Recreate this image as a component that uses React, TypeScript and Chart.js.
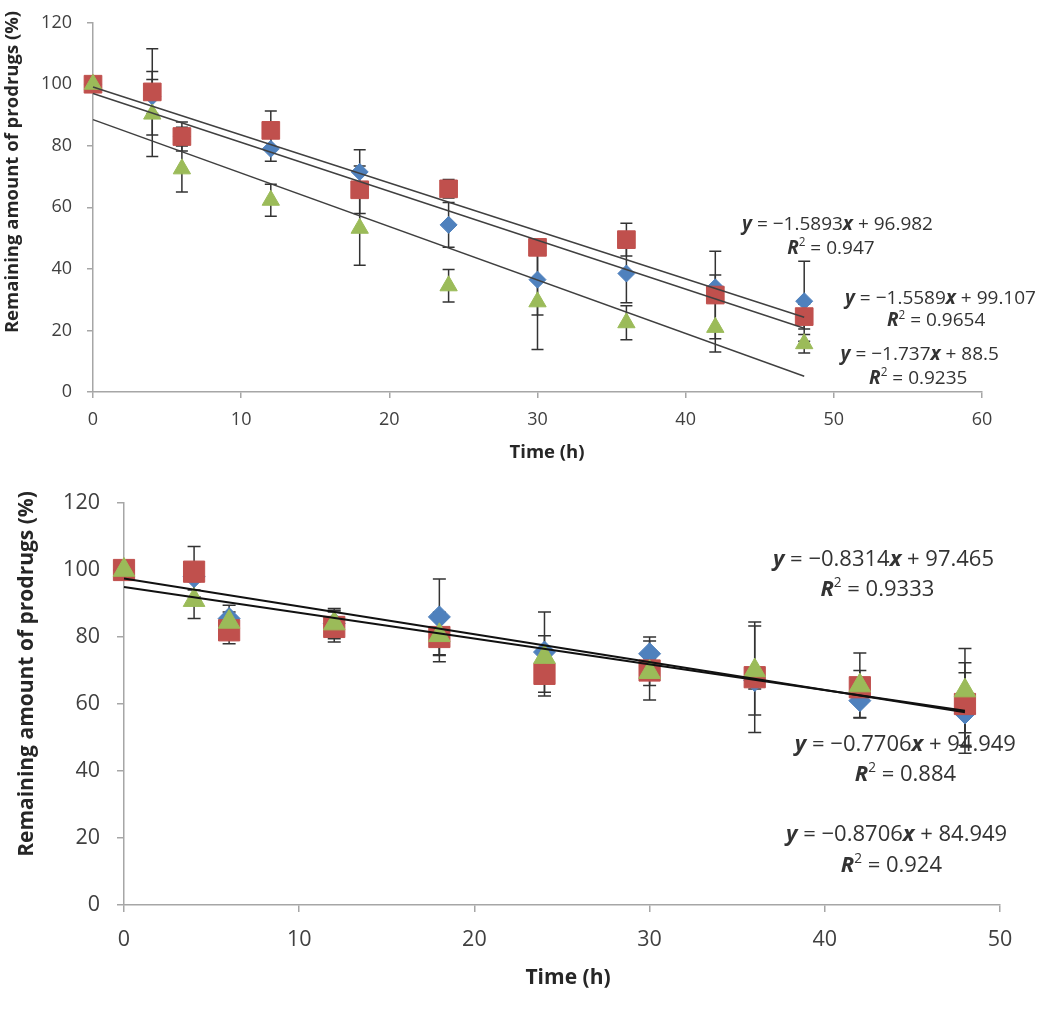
import React, { useEffect, useRef } from "react";
import { Chart, registerables } from "chart.js";

Chart.register(...registerables);

// ---------------- DATA ----------------
const TIME = [0, 4, 6, 12, 18, 24, 30, 36, 42, 48];

// Upper panel
const TOP_BLUE = [100, 96, 83, 79, 71.5, 54.3, 36.5, 38.5, 34, 29.5];
const TOP_BLUE_ERR = [0, 5.5, 3, 4, 7.2, 7.3, 11.5, 9.5, 4, 13];
const TOP_RED = [100, 97.5, 83, 85, 65.7, 66, 47, 49.5, 31.5, 24.5];
const TOP_RED_ERR = [0, 14, 4.7, 6.3, 7.7, 3, 2, 5.3, 14.2, 4];
const TOP_GREEN = [100, 90.3, 72.5, 62.3, 53.2, 34.5, 29.3, 22.5, 21, 15.7];
const TOP_GREEN_ERR = [0, 13.8, 7.5, 5.2, 12, 5.3, 15.5, 5.5, 8, 3];

const TOP_SLOPES = [-1.5893, -1.5589, -1.737];
const TOP_INTERCEPTS = [96.982, 99.107, 88.5];
const TOP_R2 = [0.947, 0.9654, 0.9235];
const TOP_LINE_VISIBLE = [true, true, true];

// Lower panel
const BOT_BLUE = [100, 98, 85.5, 84, 86, 75.5, 75, 67, 61, 57.3];
const BOT_BLUE_ERR = [0, 4, 4, 4.5, 11.3, 12, 5, 2.5, 5, 12];
const BOT_RED = [100, 99.5, 82, 83, 80, 69, 70, 68, 65, 60];
const BOT_RED_ERR = [0, 7.5, 4, 4.5, 7.4, 6.6, 8.8, 16.5, 5, 12.3];
const BOT_GREEN = [100, 91, 84.5, 84, 80.5, 74, 69.5, 70, 65.5, 64];
const BOT_GREEN_ERR = [0, 5.5, 3, 4, 6, 6.4, 4, 13.3, 9.7, 12.6];

const BOT_SLOPES = [-0.8314, -0.7706, -0.8706];
const BOT_INTERCEPTS = [97.465, 94.949, 84.949];
const BOT_R2 = [0.9333, 0.884, 0.924];
const BOT_LINE_VISIBLE = [true, true, false];

const TREND_X = [0, 48];
const Y_TITLE = "Remaining amount of prodrugs (%)";
const X_TITLE = "Time (h)";

// ---------------- STYLE / LAYOUT ----------------
const FONT = '"Open Sans", "Noto Sans", sans-serif';
const COLORS = ["#4f81bd", "#c0504d", "#9bbb59"];
const STYLES = ["rectRot", "rect", "triangle"];
const AXIS_COLOR = "#a6a6a6";
const TICK_COLOR = "#404040";
const TEXT_COLOR = "#333333";

type Seg = { t: string; s?: "bi" | "sup" };

interface PanelSpec {
  top: number;
  height: number;
  xMax: number;
  yAxisWidth: number;
  padTop: number;
  padRight: number;
  plotBottom: number;
  tickFont: number;
  tickLineHeight: number;
  tickLen: number;
  yTickPad: number;
  xTickPad: number;
  titleFont: number;
  yTitlePos: [number, number];
  xTitlePos: [number, number];
  annFont: number;
  eqPos: number[][];
  r2Pos: number[][];
  radii: number[];
  capWidth: number;
  lineColor: string;
  lineWidth: number;
  values: number[][];
  errors: number[][];
  slopes: number[];
  intercepts: number[];
  r2: number[];
  lineVisible: boolean[];
}

const TOP_SPEC: PanelSpec = {
  top: 0,
  height: 470,
  xMax: 60,
  yAxisWidth: 93,
  padTop: 8,
  padRight: 68,
  plotBottom: 392,
  tickFont: 18,
  tickLineHeight: 0.85,
  tickLen: 6,
  yTickPad: 15,
  xTickPad: 11,
  titleFont: 18.5,
  yTitlePos: [13, 172],
  xTitlePos: [547, 453],
  annFont: 19,
  eqPos: [[50.25, 54.4], [57.2, 30.3], [55.8, 12.2]],
  r2Pos: [[49.8, 46.6], [56.9, 23.1], [55.7, 4.4]],
  radii: [8.5, 12.5, 10],
  capWidth: 12,
  lineColor: "#404040",
  lineWidth: 1.5,
  values: [TOP_BLUE, TOP_RED, TOP_GREEN],
  errors: [TOP_BLUE_ERR, TOP_RED_ERR, TOP_GREEN_ERR],
  slopes: TOP_SLOPES,
  intercepts: TOP_INTERCEPTS,
  r2: TOP_R2,
  lineVisible: TOP_LINE_VISIBLE,
};

const BOT_SPEC: PanelSpec = {
  top: 470,
  height: 543,
  xMax: 50,
  yAxisWidth: 124,
  padTop: 33,
  padRight: 50,
  plotBottom: 435,
  tickFont: 21.5,
  tickLineHeight: 1.2,
  tickLen: 7,
  yTickPad: 17,
  xTickPad: 15,
  titleFont: 21,
  yTitlePos: [27.5, 204],
  xTitlePos: [568, 508],
  annFont: 22,
  eqPos: [[43.35, 103.0], [44.6, 47.8], [44.1, 20.9]],
  r2Pos: [[43.0, 94.0], [44.6, 38.8], [43.8, 11.6]],
  radii: [11, 15, 12.5],
  capWidth: 13,
  lineColor: "#111111",
  lineWidth: 2,
  values: [BOT_BLUE, BOT_RED, BOT_GREEN],
  errors: [BOT_BLUE_ERR, BOT_RED_ERR, BOT_GREEN_ERR],
  slopes: BOT_SLOPES,
  intercepts: BOT_INTERCEPTS,
  r2: BOT_R2,
  lineVisible: BOT_LINE_VISIBLE,
};

function fmt(n: number): string {
  return String(n);
}

function eqSegs(a: number, b: number): Seg[] {
  return [
    { t: "y", s: "bi" },
    { t: " = " + (a < 0 ? "\u2212" : "") + fmt(Math.abs(a)) },
    { t: "x", s: "bi" },
    { t: " + " + fmt(b) },
  ];
}

function r2Segs(r: number): Seg[] {
  return [{ t: "R", s: "bi" }, { t: "2", s: "sup" }, { t: " = " + fmt(r) }];
}

function drawRich(ctx: CanvasRenderingContext2D, segs: Seg[], cx: number, cy: number, size: number) {
  const fontFor = (s?: string) =>
    s === "bi" ? `italic bold ${size}px ${FONT}` : s === "sup" ? `${size * 0.62}px ${FONT}` : `${size}px ${FONT}`;
  ctx.save();
  ctx.fillStyle = TEXT_COLOR;
  ctx.textBaseline = "middle";
  ctx.textAlign = "left";
  const widths = segs.map((sg) => {
    ctx.font = fontFor(sg.s);
    return ctx.measureText(sg.t).width;
  });
  const total = widths.reduce((a, b) => a + b, 0);
  let x = cx - total / 2;
  segs.forEach((sg, i) => {
    ctx.font = fontFor(sg.s);
    ctx.fillText(sg.t, x, sg.s === "sup" ? cy - size * 0.3 : cy);
    x += widths[i];
  });
  ctx.restore();
}

function makePlugins(spec: PanelSpec) {
  const errorBars = {
    id: "errorBars",
    beforeDatasetsDraw(chart: any) {
      const ctx: CanvasRenderingContext2D = chart.ctx;
      const ys = chart.scales.y;
      ctx.save();
      ctx.strokeStyle = "#333333";
      ctx.lineWidth = 1.5;
      spec.errors.forEach((errs, si) => {
        const meta = chart.getDatasetMeta(si);
        errs.forEach((e, j) => {
          if (!e) return;
          const pt = meta.data[j];
          if (!pt) return;
          const x = pt.x;
          const v = spec.values[si][j];
          const y1 = ys.getPixelForValue(v + e);
          const y2 = ys.getPixelForValue(v - e);
          const hw = spec.capWidth / 2;
          ctx.beginPath();
          ctx.moveTo(x, y1);
          ctx.lineTo(x, y2);
          ctx.moveTo(x - hw, y1);
          ctx.lineTo(x + hw, y1);
          ctx.moveTo(x - hw, y2);
          ctx.lineTo(x + hw, y2);
          ctx.stroke();
        });
      });
      ctx.restore();
    },
  };
  const overlay = {
    id: "overlayText",
    afterDraw(chart: any) {
      const ctx: CanvasRenderingContext2D = chart.ctx;
      const xs = chart.scales.x;
      const ys = chart.scales.y;
      spec.slopes.forEach((a, i) => {
        const p = spec.eqPos[i];
        drawRich(ctx, eqSegs(a, spec.intercepts[i]), xs.getPixelForValue(p[0]), ys.getPixelForValue(p[1]), spec.annFont);
        const q = spec.r2Pos[i];
        drawRich(ctx, r2Segs(spec.r2[i]), xs.getPixelForValue(q[0]), ys.getPixelForValue(q[1]), spec.annFont);
      });
      ctx.save();
      ctx.fillStyle = "#262626";
      ctx.font = `bold ${spec.titleFont}px ${FONT}`;
      ctx.textAlign = "center";
      ctx.textBaseline = "middle";
      ctx.fillText(X_TITLE, spec.xTitlePos[0], spec.xTitlePos[1]);
      ctx.translate(spec.yTitlePos[0], spec.yTitlePos[1]);
      ctx.rotate(-Math.PI / 2);
      ctx.fillText(Y_TITLE, 0, 0);
      ctx.restore();
    },
  };
  return [errorBars, overlay];
}

function Panel({ spec }: { spec: PanelSpec }) {
  const ref = useRef<HTMLCanvasElement | null>(null);
  useEffect(() => {
    if (!ref.current) return;
    const scatterSets = spec.values.map((vals, i) => ({
      type: "scatter" as const,
      label: "series" + (i + 1),
      data: TIME.map((t, j) => ({ x: t, y: vals[j] })),
      pointStyle: STYLES[i],
      pointRadius: spec.radii[i],
      pointBackgroundColor: COLORS[i],
      pointBorderColor: COLORS[i],
      pointBorderWidth: 1,
      showLine: false,
      clip: false,
      order: 3 - i,
    }));
    const lineSets = spec.slopes.map((a, i) => ({
      type: "line" as const,
      label: "trend" + (i + 1),
      data: TREND_X.map((x) => ({ x, y: a * x + spec.intercepts[i] })),
      borderColor: spec.lineColor,
      borderWidth: spec.lineWidth,
      pointRadius: 0,
      fill: false,
      clip: false,
      order: -1,
      hidden: !spec.lineVisible[i],
    }));
    const chart = new Chart(ref.current, {
      type: "scatter",
      data: { datasets: [...scatterSets, ...lineSets] as any },
      options: {
        animation: false,
        responsive: false,
        events: [],
        layout: { padding: { top: spec.padTop, right: spec.padRight, left: 0, bottom: 0 } },
        plugins: { legend: { display: false }, tooltip: { enabled: false } },
        scales: {
          x: {
            type: "linear",
            min: 0,
            max: spec.xMax,
            afterFit: (s: any) => {
              s.height = spec.height - spec.plotBottom;
            },
            ticks: {
              stepSize: 10,
              color: TICK_COLOR,
              font: { family: FONT, size: spec.tickFont },
              padding: spec.xTickPad,
              maxRotation: 0,
            },
            grid: { drawOnChartArea: false, color: AXIS_COLOR, tickLength: spec.tickLen, lineWidth: 1.5 },
            border: { color: AXIS_COLOR, width: 1.5 },
          },
          y: {
            type: "linear",
            min: 0,
            max: 120,
            afterFit: (s: any) => {
              s.width = spec.yAxisWidth;
            },
            ticks: {
              stepSize: 20,
              color: TICK_COLOR,
              font: { family: FONT, size: spec.tickFont, lineHeight: spec.tickLineHeight },
              padding: spec.yTickPad,
            },
            grid: { drawOnChartArea: false, color: AXIS_COLOR, tickLength: spec.tickLen, lineWidth: 1.5 },
            border: { color: AXIS_COLOR, width: 1.5 },
          },
        },
      } as any,
      plugins: makePlugins(spec) as any,
    });
    return () => chart.destroy();
  }, [spec]);
  return (
    <canvas
      ref={ref}
      width={1050}
      height={spec.height}
      style={{ position: "absolute", left: 0, top: spec.top, width: 1050, height: spec.height }}
    />
  );
}

export default function App() {
  return (
    <div style={{ position: "absolute", left: 0, top: 0, width: 1050, height: 1013, background: "#ffffff", overflow: "hidden" }}>
      <Panel spec={TOP_SPEC} />
      <Panel spec={BOT_SPEC} />
    </div>
  );
}
